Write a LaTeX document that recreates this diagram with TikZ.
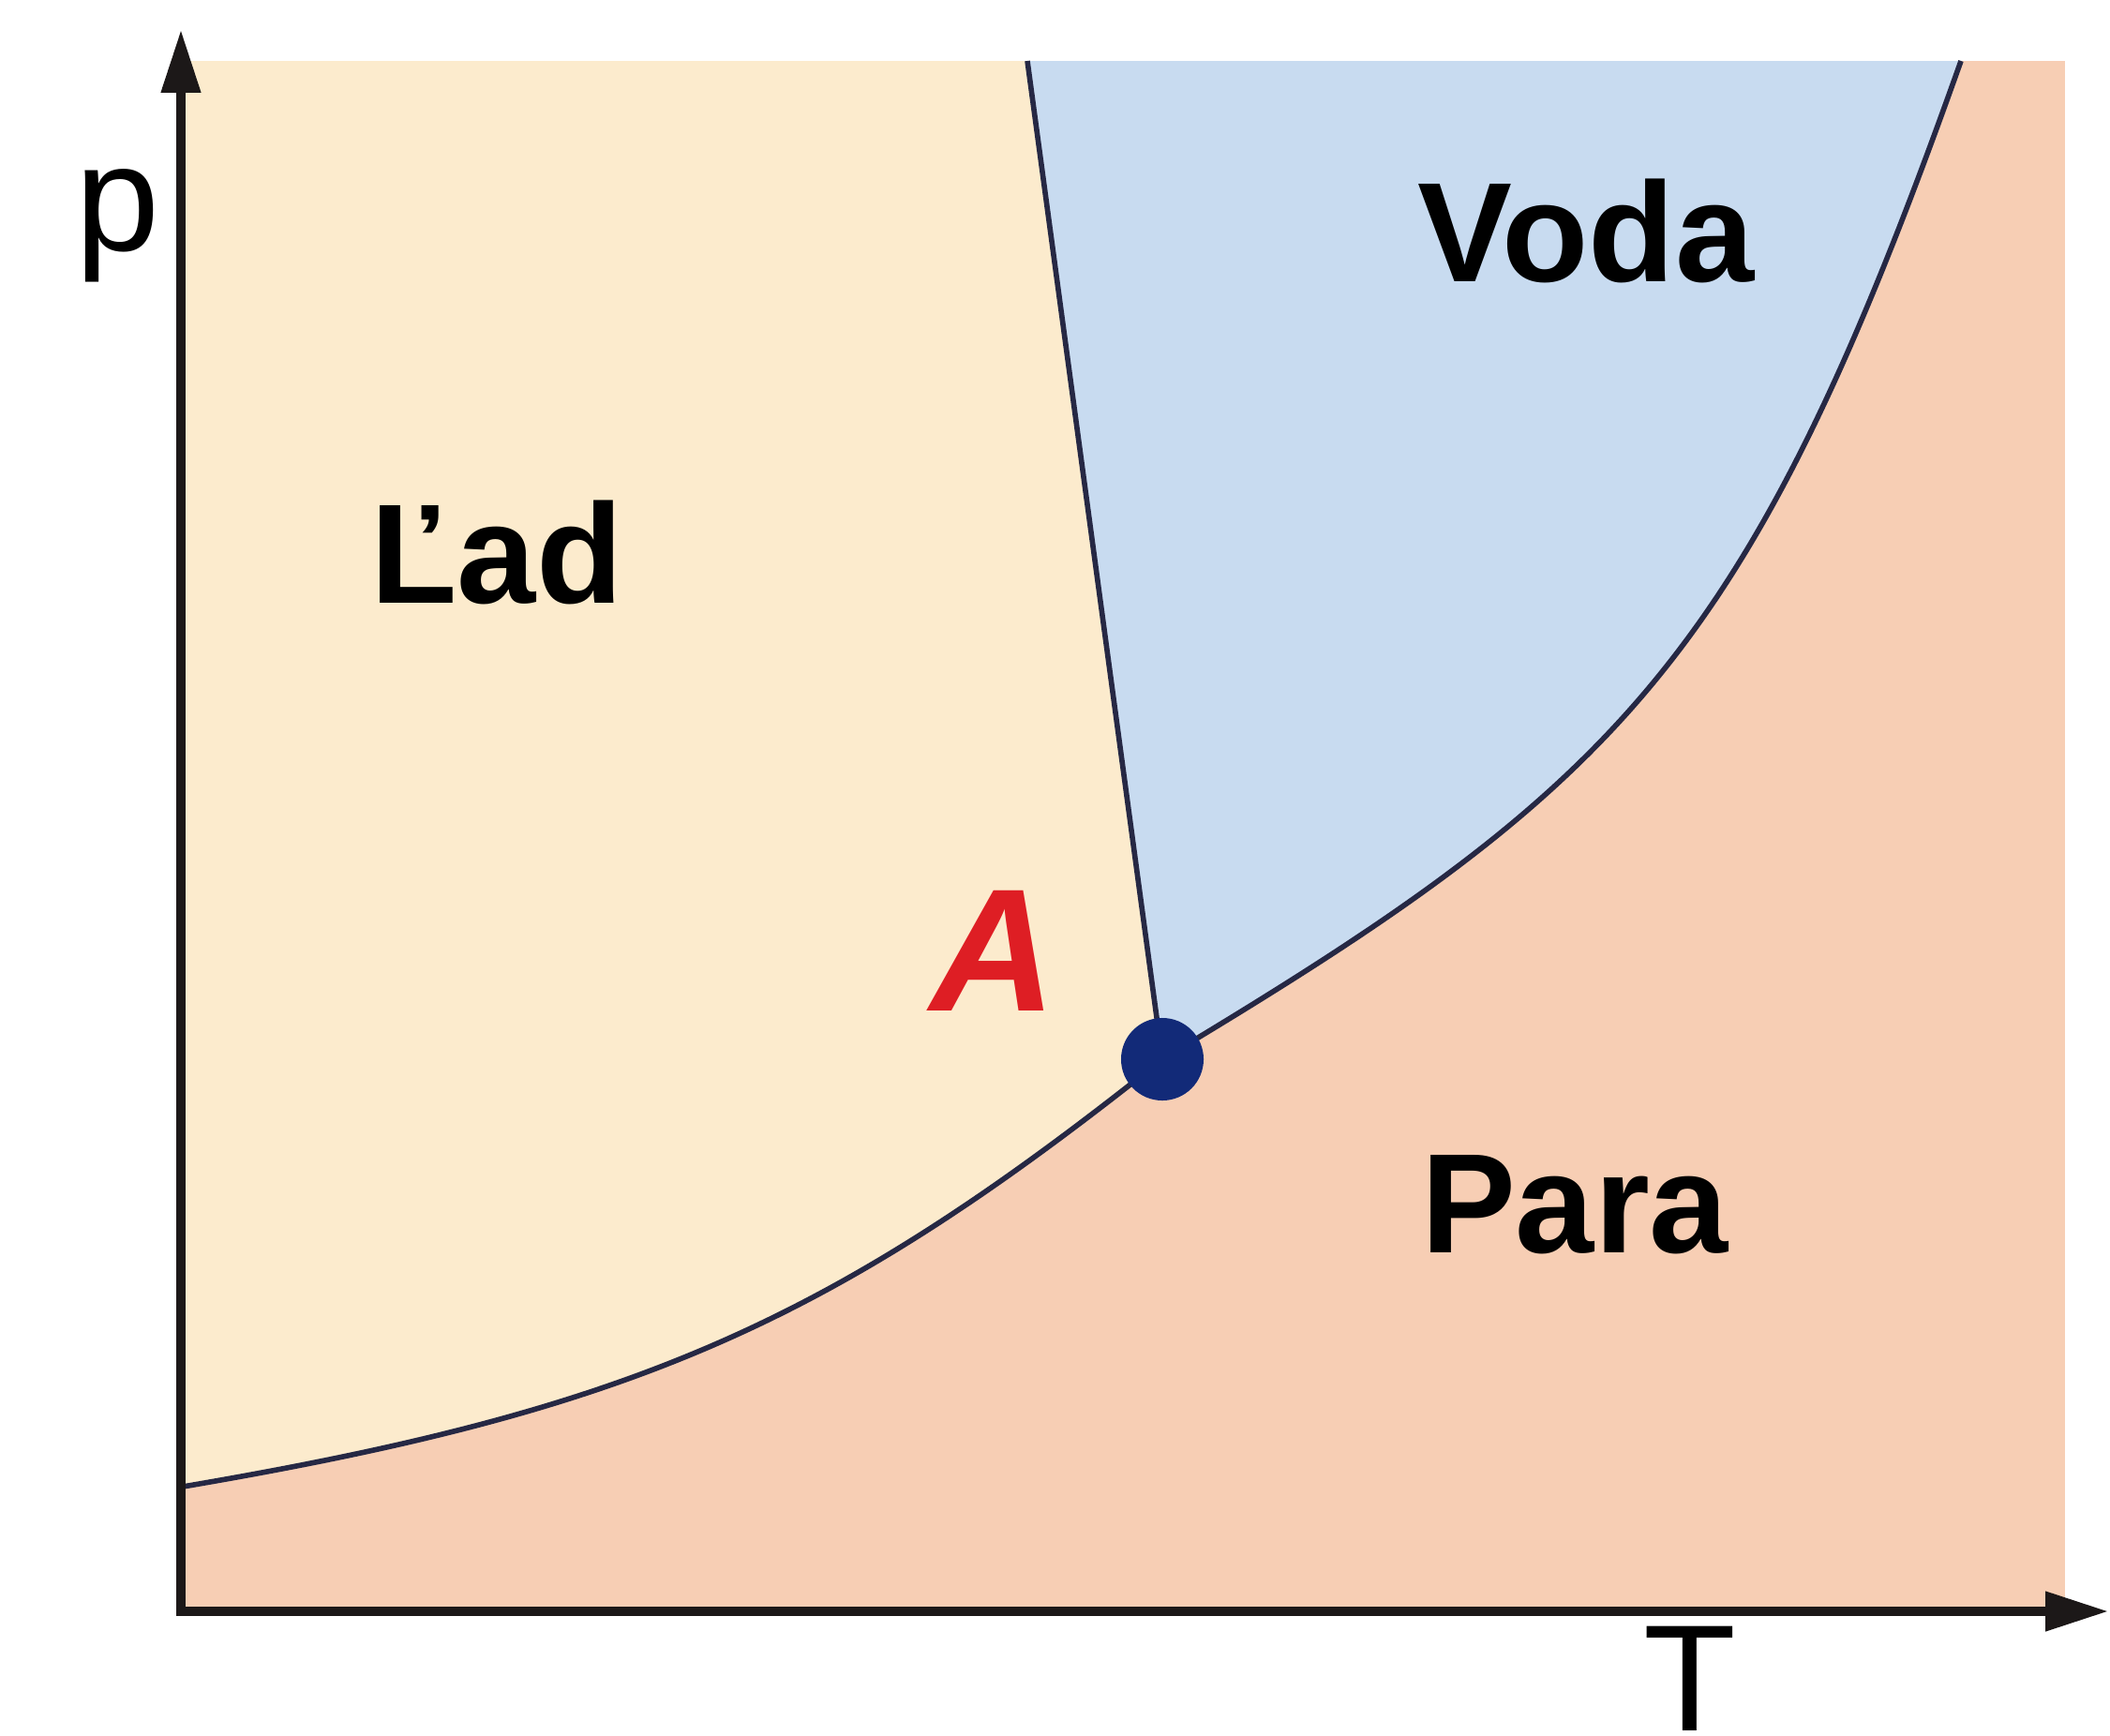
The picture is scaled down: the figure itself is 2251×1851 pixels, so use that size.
\documentclass[tikz,border=0pt]{standalone}
\usepackage{fontspec}
\setmainfont{Liberation Sans}
\usetikzlibrary{arrows.meta}
\definecolor{iceC}{RGB}{252,235,205}
\definecolor{waterC}{RGB}{200,219,240}
\definecolor{steamC}{RGB}{247,206,180}
\definecolor{lineC}{RGB}{38,40,68}
\definecolor{axisC}{RGB}{28,24,24}
\definecolor{dotC}{RGB}{18,42,120}
\definecolor{redC}{RGB}{222,30,36}
\begin{document}
\begin{tikzpicture}[x=0.01cm,y=-0.01cm,
  axis/.style={line width=2.6pt, draw=axisC, {Triangle[length=19pt,width=11.5pt]}-{Triangle[length=19pt,width=11.5pt]}},
  phase/.style={line width=1.6pt, draw=lineC},
  region/.style={font=\bfseries\fontsize{43}{50}\selectfont, inner sep=0pt, anchor=base},
  axlabel/.style={font=\fontsize{46}{52}\selectfont, inner sep=0pt, anchor=base}]
\useasboundingbox (0,0) rectangle (2251,1851);
\fill[white] (0,0) rectangle (2251,1851);
\coordinate (O) at (193,1719);
\coordinate (ytip) at (193,32);
\coordinate (xtip) at (2249,1719);
\coordinate (tp) at (1240,1130);
\coordinate (mtop) at (1096,65);
\coordinate (vtop) at (2092,65);
\coordinate (s0) at (195,1586);
\coordinate (tl) at (195,65);
\coordinate (sc1) at (677,1504);
\coordinate (sc2) at (886,1412);
\coordinate (vc1) at (1729,837);
\coordinate (vc2) at (1865,705);
% regions
\fill[steamC] (195,65) rectangle (2203,1715);
\fill[iceC] (tl) -- (s0) .. controls (sc1) and (sc2) .. (tp) -- (mtop) -- cycle;
\fill[waterC] (mtop) -- (tp) .. controls (vc1) and (vc2) .. (vtop) -- cycle;
% phase boundaries
\draw[phase] (s0) .. controls (sc1) and (sc2) .. (tp);
\draw[phase] (tp) .. controls (vc1) and (vc2) .. (vtop);
\draw[phase] (mtop) -- (tp);
% axes
\draw[axis] (ytip) -- (O) -- (xtip);
% triple point
\node[circle, fill=dotC, minimum size=0.88cm, inner sep=0pt] (tpdot) at (tp) {};
% labels
\node[axlabel] (plab) at (125,267) {p};
\node[axlabel] (Tlab) at (1803,1846) {T};
\node[region] (ice) at (530,643) {Ľad};
\node[region] (water) at (1692,300) {Voda};
\node[region] (steam) at (1680,1336) {Para};
\node[font=\bfseries\itshape\fontsize{53}{60}\selectfont, text=redC, inner sep=0pt, anchor=base] (Alab) at (1060,1078) {A};
\end{tikzpicture}
\end{document}
